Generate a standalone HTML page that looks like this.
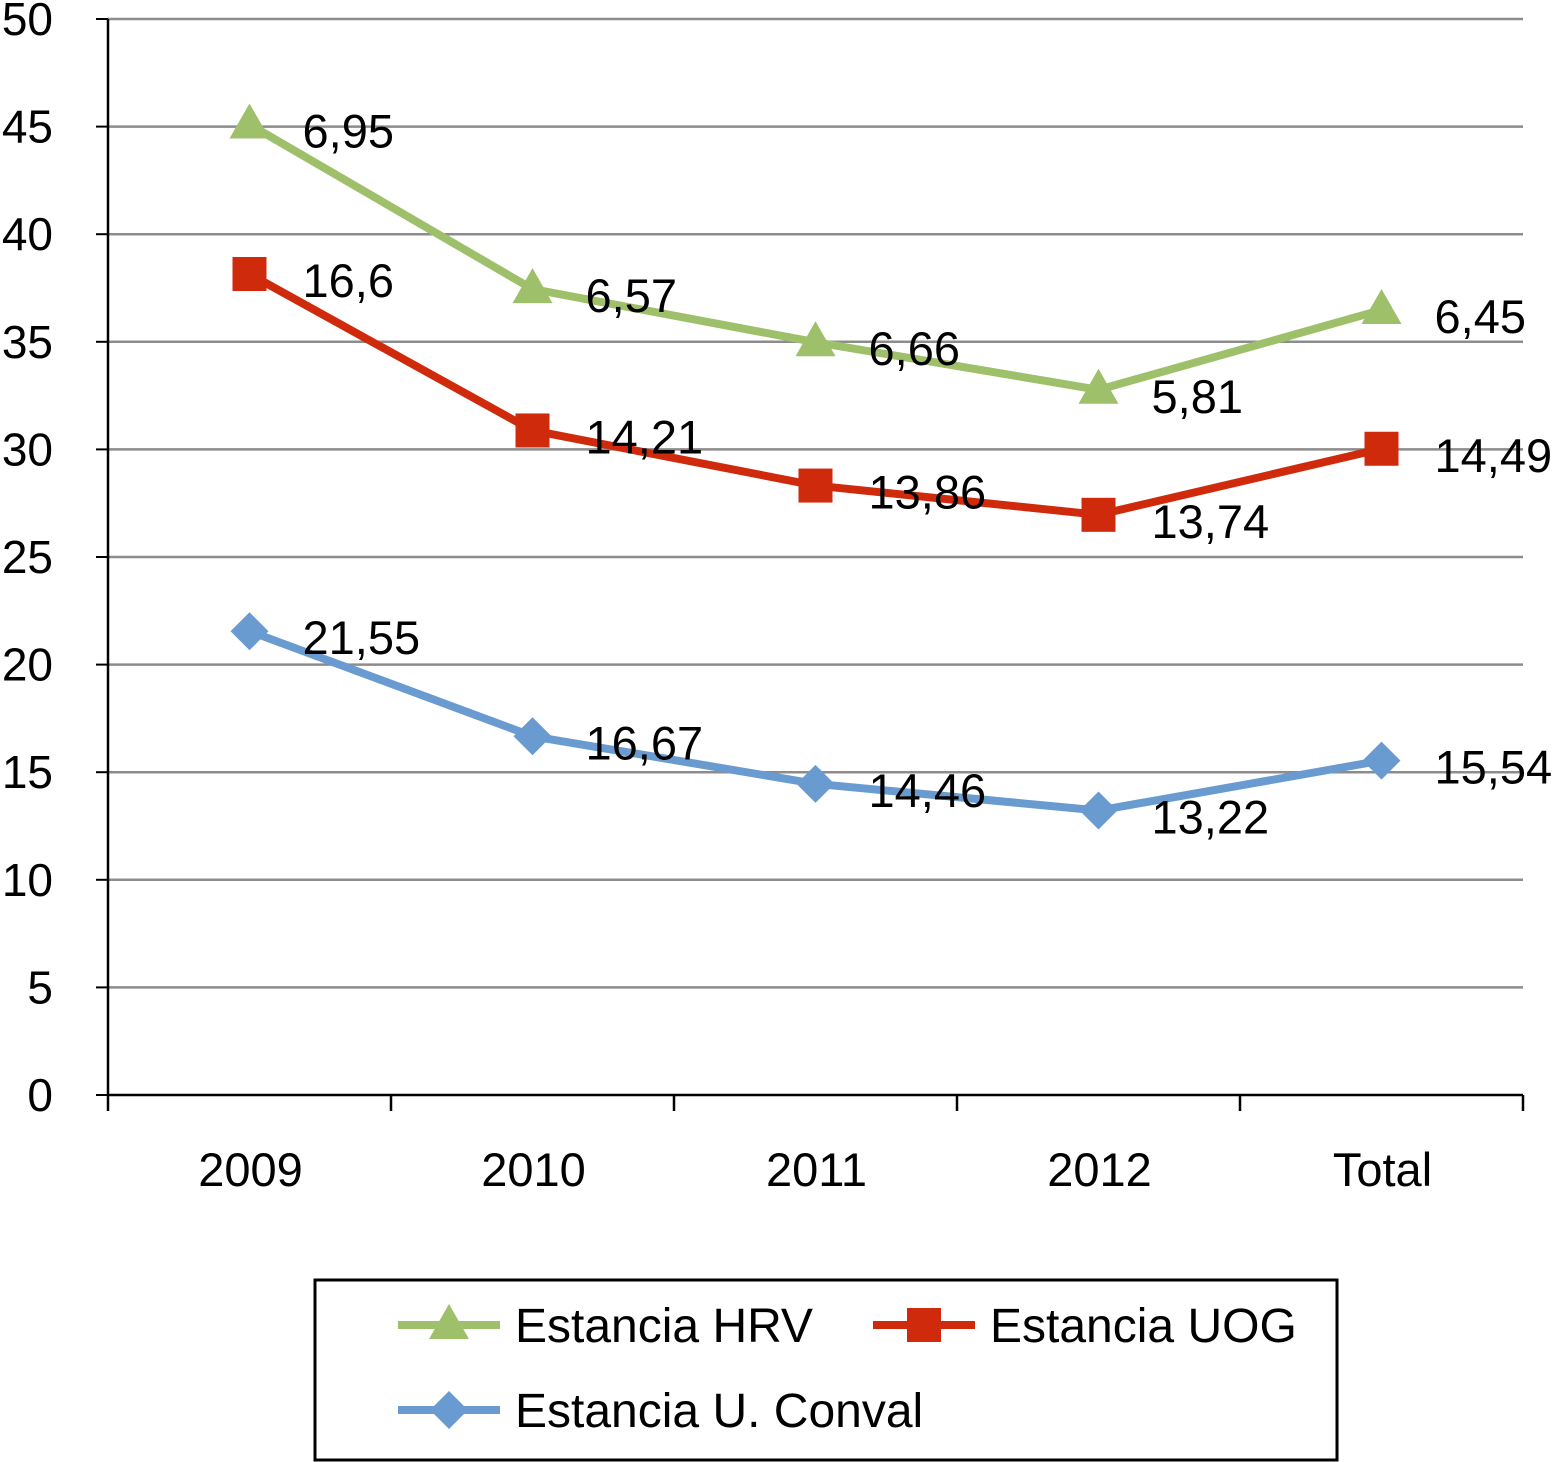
<!DOCTYPE html>
<html><head><meta charset="utf-8"><style>
body{margin:0;background:#fff;}
svg{display:block;font-family:"Liberation Sans",sans-serif;}
</style></head><body>
<svg id="chart" width="1554" height="1462">
<g id="grid"></g>
<g id="axes"></g>
<g id="series"></g>
<g id="legend">
<rect x="315" y="1280" width="1022" height="180" fill="#fff" stroke="#000" stroke-width="3"/>
</g>
</svg>
<script>
const categories=["2009","2010","2011","2012","Total"];
const conval=[21.55,16.67,14.46,13.22,15.54];
const uog=[16.6,14.21,13.86,13.74,14.49];
const hrv=[6.95,6.57,6.66,5.81,6.45];
const yTicks=[0,5,10,15,20,25,30,35,40,45,50];
const NS="http://www.w3.org/2000/svg";
const x0=108,x1=1523,y0=1095,yTop=19;
const step=(x1-x0)/categories.length;
const X=i=>x0+step*(i+0.5);
const Y=v=>y0-(v/50)*(y0-yTop);
function mk(tag,attrs,parent){const e=document.createElementNS(NS,tag);for(const k in attrs)e.setAttribute(k,attrs[k]);parent.appendChild(e);return e;}
const grid=document.getElementById('grid'),axes=document.getElementById('axes'),ser=document.getElementById('series'),leg=document.getElementById('legend');
yTicks.forEach(t=>{
 if(t>0){const l=mk('line',{x1:x0,x2:x1,y1:Y(t),y2:Y(t),stroke:'#8c8c8c','stroke-width':2.5},grid);
 
 }
 const tk=mk('line',{x1:96,x2:x0,y1:Y(t),y2:Y(t),stroke:'#000','stroke-width':2},axes);
 
 
 const tx=mk('text',{x:53,y:Y(t)+16,'text-anchor':'end','font-size':46},axes);tx.textContent=t;
 
 
});
mk('line',{x1:x0,x2:x0,y1:yTop,y2:y0,stroke:'#000','stroke-width':2.5},axes);
mk('line',{x1:x0,x2:x1,y1:y0,y2:y0,stroke:'#000','stroke-width':2.5},axes);
for(let i=0;i<=categories.length;i++){const t=mk('line',{x1:x0+step*i,x2:x0+step*i,y1:y0,y2:y0+16,stroke:'#000','stroke-width':2.5},axes);
 
 }
categories.forEach((c,i)=>{const t=mk('text',{x:X(i)+1,y:1186,'text-anchor':'middle','font-size':47},axes);t.textContent=c;
 
 });
function marker(type,cx,cy,color,parent){
 let e;
 if(type==='tri')e=mk('polygon',{points:`${cx},${cy-21} ${cx+20},${cy+14} ${cx-20},${cy+14}`,fill:color},parent);
 else if(type==='sq')e=mk('rect',{x:cx-17,y:cy-17,width:34,height:34,fill:color},parent);
 else e=mk('polygon',{points:`${cx},${cy-19} ${cx+19},${cy} ${cx},${cy+19} ${cx-19},${cy}`,fill:color},parent);
 return e;
}
const s1=conval, s2=conval.map((v,i)=>v+uog[i]), s3=s2.map((v,i)=>v+hrv[i]);
const defs=[
 {name:'conval',stack:s1,raw:conval,color:'#6a9bd0',m:'dia'},
 {name:'uog',stack:s2,raw:uog,color:'#d02a0c',m:'sq'},
 {name:'hrv',stack:s3,raw:hrv,color:'#9fc06a',m:'tri'}];
defs.forEach(d=>{
 const g=mk('g',{},ser);
 
 
 const p=mk('polyline',{points:d.stack.map((v,i)=>X(i)+','+Y(v)).join(' '),fill:'none',stroke:d.color,'stroke-width':8,'stroke-linejoin':'round'},g);
 
 
 d.stack.forEach((v,i)=>{
  const m=marker(d.m,X(i),Y(v),d.color,g);
  
  
  const t=mk('text',{x:X(i)+53,y:Y(v)+23,'font-size':47},g);
  t.textContent=d.raw[i].toString().replace('.',',');
  
  
 });
});
const L=[{c:'#9fc06a',m:'tri',t:'Estancia HRV',x:398,y:1325},{c:'#d02a0c',m:'sq',t:'Estancia UOG',x:873,y:1325},{c:'#6a9bd0',m:'dia',t:'Estancia U. Conval',x:398,y:1410}];
L.forEach(l=>{
 const g=mk('g',{},leg);
 
 
 mk('line',{x1:l.x,x2:l.x+102,y1:l.y,y2:l.y,stroke:l.c,'stroke-width':8},g);
 marker(l.m,l.x+51,l.y,l.c,g);
 const t=mk('text',{x:l.x+117,y:l.y+17,'font-size':48},g);t.textContent=l.t;
});
</script>
</body></html>
